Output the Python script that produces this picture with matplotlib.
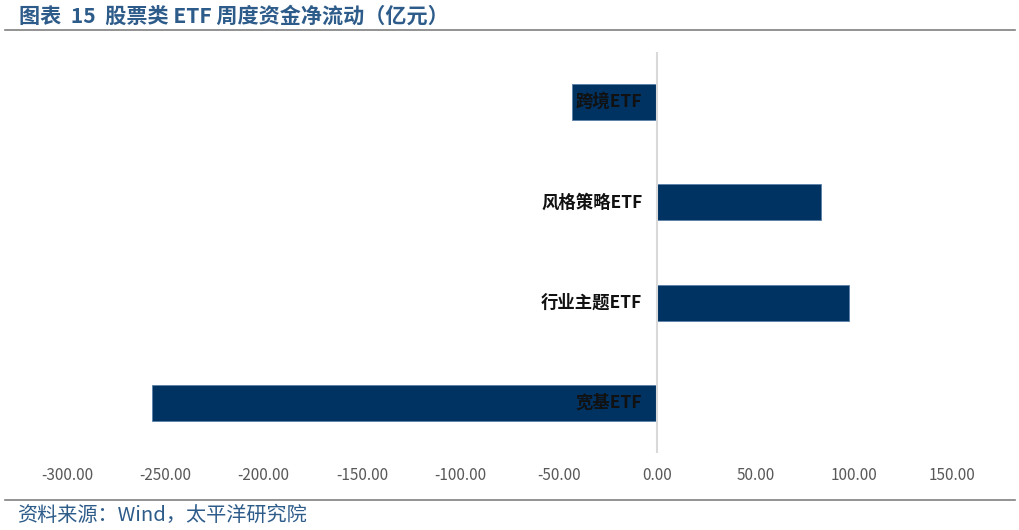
import matplotlib
matplotlib.use("Agg")
import matplotlib.pyplot as plt
import numpy as np

plt.rcParams['font.family'] = ['Noto Sans CJK SC', 'DejaVu Sans']

# 股票类ETF周度资金净流动（亿元）
categories = ['宽基ETF', '行业主题ETF', '风格策略ETF', '跨境ETF']
net_flow = [-256.6, 97.4, 83.6, -43.0]
x_ticks = [-300, -250, -200, -150, -100, -50, 0, 50, 100, 150]

title_text = '图表  15  股票类 ETF 周度资金净流动（亿元）'
source_text = '资料来源：Wind，太平洋研究院'

bar_color = '#003262'
title_color = '#2E5C8A'

fig = plt.figure(figsize=(10.2, 5.3), dpi=100)
W, H = 1020, 530
ax = fig.add_axes([67 / W, 1 - 453 / H, (952 - 67) / W, (453 - 52) / H])

pos = np.arange(len(categories))
ax.barh(pos, net_flow, height=0.36, color=bar_color, edgecolor='#5a7fa8', linewidth=0.6, zorder=2)
ax.set_xlim(-300, 150)
ax.set_ylim(-0.5, len(categories) - 0.5)
ax.axvline(0, color='#d9d9d9', linewidth=1.5, zorder=3)

for s in ax.spines.values():
    s.set_visible(False)
ax.set_yticks([])
ax.set_xticks(x_ticks)
ax.set_xticklabels([f'{v:.2f}' for v in x_ticks], color='#595959', fontsize=11)
ax.tick_params(axis='x', length=0, pad=10)

# category labels sit next to the zero line
for p, name in zip(pos, categories):
    ax.text(-7.5, p, name, ha='right', va='center', fontsize=12.5, fontweight='bold',
            color='#111111', zorder=4)

# title and source
fig.text(19 / W, 1 - 16 / H, title_text, fontsize=15.2, fontweight='bold',
         color=title_color, ha='left', va='center')
fig.add_artist(plt.Line2D([5 / W, 1015 / W], [1 - 30 / H, 1 - 30 / H],
                          color='#808080', linewidth=1.2))
fig.add_artist(plt.Line2D([5 / W, 1015 / W], [1 - 500 / H, 1 - 500 / H],
                          color='#808080', linewidth=1.2))
fig.text(17 / W, 1 - 515 / H, source_text, fontsize=14.5, color='#2E5C8A',
         ha='left', va='center')

fig.savefig('out.png', dpi=100)
